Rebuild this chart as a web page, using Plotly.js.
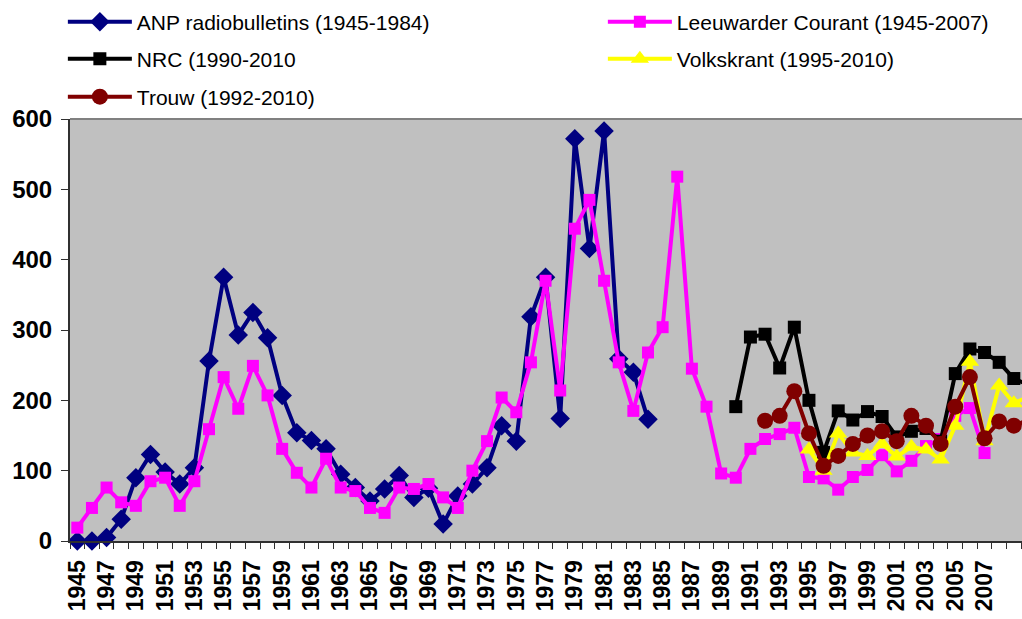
<!DOCTYPE html>
<html>
<head>
<meta charset="utf-8">
<script src="https://cdn.plot.ly/plotly-3.0.1.min.js"></script>
<style>html,body{margin:0;padding:0;background:#fff;}#chart{width:1022px;height:619px;}</style>
</head>
<body>
<div id="chart"></div>
<script>
// Years 1945..2010
var years = [1945,1946,1947,1948,1949,1950,1951,1952,1953,1954,1955,1956,1957,1958,1959,1960,1961,1962,1963,1964,1965,1966,1967,1968,1969,1970,1971,1972,1973,1974,1975,1976,1977,1978,1979,1980,1981,1982,1983,1984,1985,1986,1987,1988,1989,1990,1991,1992,1993,1994,1995,1996,1997,1998,1999,2000,2001,2002,2003,2004,2005,2006,2007,2008,2009,2010];

var anpYears = [1945,1946,1947,1948,1949,1950,1951,1952,1953,1954,1955,1956,1957,1958,1959,1960,1961,1962,1963,1964,1965,1966,1967,1968,1969,1970,1971,1972,1973,1974,1975,1976,1977,1978,1979,1980,1981,1982,1983,1984];
var anpValues = [0,0,5,31,90,123,98,81,104,256,375,293,325,289,207,154,143,131,95,76,57,74,93,62,75,24,64,81,104,164,142,319,375,174,572,416,583,259,240,173];

var lcYears = [1945,1946,1947,1948,1949,1950,1951,1952,1953,1954,1955,1956,1957,1958,1959,1960,1961,1962,1963,1964,1965,1966,1967,1968,1969,1970,1971,1972,1973,1974,1975,1976,1977,1978,1979,1980,1981,1982,1983,1984,1985,1986,1987,1988,1989,1990,1991,1992,1993,1994,1995,1996,1997,1998,1999,2000,2001,2002,2003,2004,2005,2006,2007];
var lcValues = [19,47,76,55,50,85,90,50,85,159,233,188,249,207,131,97,76,117,76,71,47,40,76,74,81,62,47,100,142,204,183,254,370,214,444,485,370,254,185,268,304,518,245,191,96,90,131,145,152,161,91,89,73,91,101,122,99,114,135,145,178,189,125];

var nrcYears = [1990,1991,1992,1993,1994,1995,1996,1997,1998,1999,2000,2001,2002,2003,2004,2005,2006,2007,2008,2009,2010];
var nrcValues = [191,290,294,246,304,200,126,185,172,184,177,148,156,160,142,238,273,268,254,231,222];

var vkYears = [1995,1996,1997,1998,1999,2000,2001,2002,2003,2004,2005,2006,2007,2008,2009,2010];
var vkValues = [130,100,153,126,121,138,120,134,130,116,164,255,142,221,196,205];

var trouwYears = [1992,1993,1994,1995,1996,1997,1998,1999,2000,2001,2002,2003,2004,2005,2006,2007,2008,2009,2010];
var trouwValues = [171,178,213,153,107,121,138,150,156,142,178,164,138,191,233,146,170,164,172];

var tickYears = [1945,1947,1949,1951,1953,1955,1957,1959,1961,1963,1965,1967,1969,1971,1973,1975,1977,1979,1981,1983,1985,1987,1989,1991,1993,1995,1997,1999,2001,2003,2005,2007,2009];
var tickLabels = ["1945","1947","1949","1951","1953","1955","1957","1959","1961","1963","1965","1967","1969","1971","1973","1975","1977","1979","1981","1983","1985","1987","1989","1991","1993","1995","1997","1999","2001","2003","2005","2007","2009"];

var yTicks = [0,100,200,300,400,500,600];

var seriesNames = ["ANP radiobulletins (1945-1984)","Leeuwarder Courant (1945-2007)","NRC (1990-2010","Volkskrant (1995-2010)","Trouw (1992-2010)"];

var FONT = "Liberation Sans, Arial, sans-serif";

function tr(x, y, name, color, symbol, size, legendId) {
  return {
    x: x, y: y, name: name, type: "scatter", mode: "lines+markers",
    line: {color: color, width: 4},
    marker: {color: color, symbol: symbol, size: size, line: {width: 0}},
    cliponaxis: false,
    legend: legendId
  };
}

var data = [
  tr(anpYears, anpValues, seriesNames[0], "#000080", "diamond", 15, "legend"),
  tr(lcYears, lcValues, seriesNames[1], "#FF00FF", "square", 12, "legend2"),
  tr(nrcYears, nrcValues, seriesNames[2], "#000000", "square", 13, "legend3"),
  tr(vkYears, vkValues, seriesNames[3], "#FFFF00", "triangle-up", 16, "legend4"),
  tr(trouwYears, trouwValues, seriesNames[4], "#800000", "circle", 16, "legend5")
];

function legendAt(xPix, yPix) {
  return {
    orientation: "v",
    x: -0.0075 + (xPix - 68) / 952, xanchor: "left",
    y: (541 - yPix) / 422, yanchor: "middle",
    bgcolor: "rgba(0,0,0,0)", borderwidth: 0,
    font: {family: FONT, size: 21, color: "#000"},
    itemwidth: 64,
    itemclick: false, itemdoubleclick: false
  };
}

var layout = {
  width: 1022, height: 619,
  margin: {l: 70, r: 0, t: 119, b: 78, pad: 0, autoexpand: false},
  paper_bgcolor: "#ffffff",
  plot_bgcolor: "#C0C0C0",
  font: {family: FONT, color: "#000"},
  showlegend: true,
  legend: legendAt(68, 22),
  legend2: legendAt(608, 22),
  legend3: legendAt(68, 59),
  legend4: legendAt(608, 59),
  legend5: legendAt(68, 97),
  xaxis: {
    range: [1944.5, 2009.56],
    showgrid: false, zeroline: false,
    showline: true, linecolor: "#303030", linewidth: 2,
    tickmode: "array", tickvals: tickYears, ticktext: tickLabels,
    tickangle: -90,
    ticks: "", ticklabelstandoff: 8,
    tickfont: {family: FONT, size: 23, weight: "bold", color: "#000"},
    minor: {tick0: 1944.5, dtick: 1, ticks: "outside", ticklen: 6, tickwidth: 1, tickcolor: "#303030", showgrid: false}
  },
  yaxis: {
    range: [0, 600],
    showgrid: false, zeroline: false,
    showline: true, linecolor: "#303030", linewidth: 2,
    tickmode: "array", tickvals: yTicks,
    ticks: "outside", ticklen: 7, tickwidth: 1, tickcolor: "#303030",
    ticklabelstandoff: 4,
    tickfont: {family: FONT, size: 24, weight: "bold", color: "#000"}
  },
  shapes: [
    {type: "line", xref: "paper", yref: "paper", x0: 0, x1: 1, y0: 1, y1: 1, line: {color: "#808080", width: 2}}
  ]
};

Plotly.newPlot("chart", data, layout, {displayModeBar: false, staticPlot: true});
</script>
</body>
</html>
